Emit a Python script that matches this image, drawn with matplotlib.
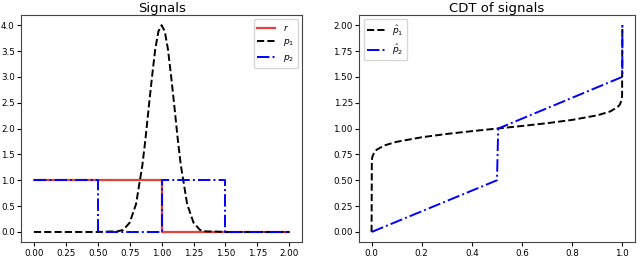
import numpy as np
import matplotlib
matplotlib.use("Agg")
import matplotlib.pyplot as plt

# signals on [0, 2]
r_x = [0.0, 1.0, 1.0, 2.0]
r_y = [1.0, 1.0, 0.0, 0.0]

p1_x = [0.0, 0.5, 0.6, 0.65, 0.7, 0.75, 0.8, 0.85, 0.875, 0.9, 0.925, 0.95, 0.975, 1.0,
        1.025, 1.05, 1.075, 1.1, 1.125, 1.15, 1.2, 1.25, 1.3, 1.35, 1.4, 1.5, 2.0]
p1_y = [0.0, 0.0, 0.01, 0.01, 0.04, 0.18, 0.54, 1.30, 1.83, 2.43, 3.0, 3.53, 3.88, 4.0,
        3.88, 3.53, 3.0, 2.43, 1.83, 1.30, 0.54, 0.18, 0.04, 0.01, 0.01, 0.0, 0.0]

p2_x = [0.0, 0.5, 0.5, 1.0, 1.0, 1.5, 1.5, 2.0]
p2_y = [1.0, 1.0, 0.0, 0.0, 1.0, 1.0, 0.0, 0.0]

# CDT of signals on [0, 1]
c1_t = [0.0, 0.001, 0.003, 0.01, 0.02, 0.05, 0.1, 0.2, 0.3, 0.4, 0.5,
        0.6, 0.7, 0.8, 0.9, 0.95, 0.98, 0.99, 0.997, 0.999, 1.0]
c1_v = [0.0, 0.69, 0.725, 0.768, 0.795, 0.836, 0.872, 0.916, 0.948, 0.975, 1.0,
        1.025, 1.052, 1.084, 1.128, 1.164, 1.205, 1.232, 1.275, 1.31, 2.0]

c2_t = [0.0, 0.5, 0.505, 1.0, 1.0]
c2_v = [0.0, 0.5, 1.0, 1.5, 2.0]

fig = plt.figure(figsize=(6.4, 2.6), dpi=100)
ax1 = fig.add_axes([0.033, 0.068, 0.439, 0.875])
ax2 = fig.add_axes([0.561, 0.068, 0.431, 0.875])

ax1.plot(r_x, r_y, color="#e8413a", lw=1.6, label="$r$")
ax1.plot(p1_x, p1_y, "k--", lw=1.4, label="$p_1$")
ax1.plot(p2_x, p2_y, "b-.", lw=1.4, label="$p_2$")
ax1.set_title("Signals", fontsize=9.5, pad=2)
ax1.set_xticks(np.arange(0, 2.01, 0.25))
ax1.set_yticks(np.arange(0, 4.01, 0.5))
ax1.legend(fontsize=6.5, loc="upper right")

ax2.plot(c1_t, c1_v, "k--", lw=1.4, label=r"$\hat{p}_1$")
ax2.plot(c2_t, c2_v, "b-.", lw=1.4, label=r"$\hat{p}_2$")
ax2.set_title("CDT of signals", fontsize=9.5, pad=2)
ax2.set_yticks(np.arange(0, 2.01, 0.25))
ax2.legend(fontsize=6.5, loc="upper left")

for ax in (ax1, ax2):
    ax.tick_params(labelsize=6.3, length=3, pad=1.5)
    for s in ax.spines.values():
        s.set_color("#444444")

fig.savefig("out.png", dpi=100)
